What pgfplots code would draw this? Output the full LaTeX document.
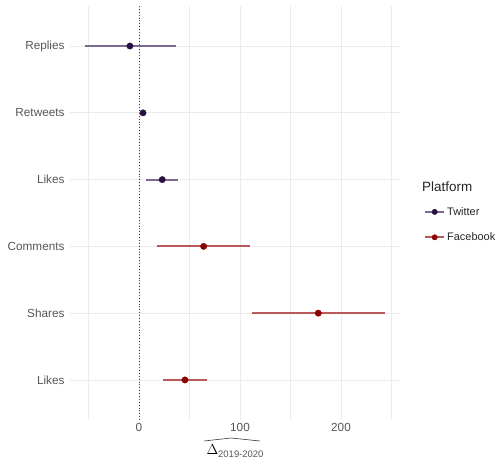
\documentclass[border=0pt]{standalone}
\usepackage{pgfplots}
\pgfplotsset{compat=1.18}
\usepackage{pgfplotstable}
\usepackage{fontspec}
\setmainfont{Liberation Sans}
\definecolor{twd}{HTML}{2A1040}
\definecolor{twl}{HTML}{7A6A8E}
\definecolor{fbd}{HTML}{8B0000}
\definecolor{fbl}{HTML}{B85A5A}
\definecolor{txt}{HTML}{555555}
\definecolor{grd}{HTML}{EBEBEB}

\pgfplotstableread{
y  x
6  -9
5  4
4  23
}\twitter
\pgfplotstableread{
y  x
3  64
2  177.5
1  45.5
}\facebook

\begin{document}
\begin{tikzpicture}
\useasboundingbox (0,0) rectangle (502bp,459bp);
\begin{axis}[
  at={(70bp,39bp)}, anchor=south west,
  scale only axis, width=330bp, height=414bp,
  xmin=-68.3, xmax=258.4, ymin=0.4, ymax=6.6,
  axis line style={draw=none}, tick style={draw=none},
  xtick={0,100,200}, minor xtick={-50,50,150,250},
  ytick={1,2,3,4,5,6},
  yticklabels={Likes,Shares,Comments,Likes,Retweets,Replies},
  xmajorgrids, xminorgrids, ymajorgrids,
  major grid style={grd, line width=0.7pt},
  minor grid style={grd, line width=0.4pt},
  ticklabel style={font=\fontsize{11.8}{13}\selectfont, text=txt},
  yticklabel style={xshift=-2bp},
  /pgf/number format/assume math mode=true,
  clip=false,
]
\addplot[black!75, dotted, line width=0.9pt] coordinates {(0,0.4) (0,6.6)};
% Twitter ranges
\addplot[twl, line width=2bp] coordinates {(-53.5,6) (36.5,6)};
\addplot[twl, line width=2bp] coordinates {(2,5) (6,5)};
\addplot[twl, line width=2bp] coordinates {(7,4) (38.5,4)};
% Facebook ranges
\addplot[fbl, line width=2bp] coordinates {(18,3) (110,3)};
\addplot[fbl, line width=2bp] coordinates {(111.5,2) (244,2)};
\addplot[fbl, line width=2bp] coordinates {(24,1) (67,1)};
% points
\addplot[only marks, mark=*, mark size=3.2pt, color=twd] table[x=x, y=y] {\twitter};
\addplot[only marks, mark=*, mark size=3.2pt, color=fbd] table[x=x, y=y] {\facebook};
\end{axis}
% legend
\node[anchor=west, font=\fontsize{13.5}{15}\selectfont, text=black!85, inner sep=0pt] at (422bp,272bp) {Platform};
\begin{axis}[hide axis, scale only axis, width=1bp, height=1bp, at={(0,0)}, xmin=0,xmax=1,ymin=0,ymax=1,
  legend style={at={(421bp,256bp)}, anchor=north west, draw=none, fill=none,
    font=\fontsize{11}{13}\selectfont, text=black!85, row sep=12bp,
    legend cell align=left,
    /tikz/every even column/.append style={column sep=8bp}}]
\addlegendimage{twl,
  legend image code/.code={\draw[line width=2bp, twl] (0bp,0bp) -- (19bp,0bp); \fill[twd] (9.5bp,0bp) circle (2.7pt);}}
\addlegendentry{Twitter}
\addlegendimage{fbl,
  legend image code/.code={\draw[line width=2bp, fbl] (0bp,0bp) -- (19bp,0bp); \fill[fbd] (9.5bp,0bp) circle (2.7pt);}}
\addlegendentry{Facebook}
\end{axis}
% x label
\node[anchor=base, inner sep=0pt] at (235bp,5bp) {\fontsize{15}{16}\selectfont$\Delta$\raisebox{-3.5bp}{\fontsize{9.5}{10}\selectfont\color{txt}2019-2020}};
\draw[black!80, line width=0.6pt] (204bp,18bp) .. controls (218bp,20bp) .. (231bp,21bp) .. controls (245bp,20bp) .. (260bp,18bp);
\end{tikzpicture}
\end{document}
